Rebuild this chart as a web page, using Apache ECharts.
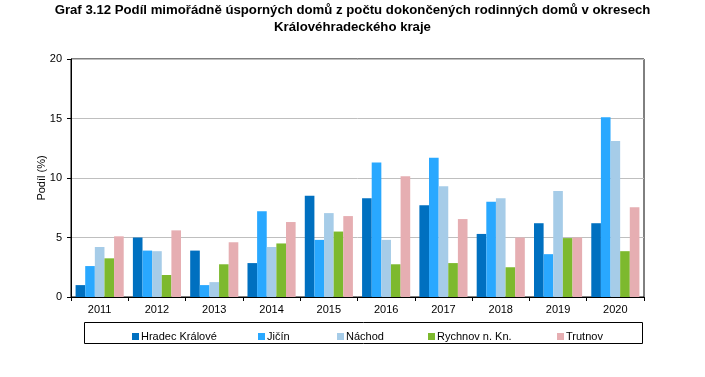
<!DOCTYPE html>
<html><head><meta charset="utf-8">
<script src="https://cdn.jsdelivr.net/npm/echarts@6/dist/echarts.min.js"></script>
<style>html,body{margin:0;padding:0;background:#fff}#c{width:705px;height:377px}</style>
</head><body><div id="c"></div>
<script>
const categories = ['2011','2012','2013','2014','2015','2016','2017','2018','2019','2020'];
const seriesNames = ['Hradec Králové','Jičín','Náchod','Rychnov n. Kn.','Trutnov'];
const hradecKralove = [1.0, 5.0, 3.9, 2.85, 8.5, 8.3, 7.7, 5.3, 6.2, 6.2];
const jicin = [2.6, 3.9, 1.0, 7.2, 4.8, 11.3, 11.7, 8.0, 3.6, 15.1];
const nachod = [4.2, 3.85, 1.25, 4.2, 7.05, 4.8, 9.3, 8.3, 8.9, 13.1];
const rychnov = [3.25, 1.85, 2.75, 4.5, 5.5, 2.75, 2.85, 2.5, 4.95, 3.85];
const trutnov = [5.1, 5.6, 4.6, 6.3, 6.8, 10.15, 6.55, 5.0, 5.0, 7.55];
const yTicks = [0, 5, 10, 15, 20];
const colors = ['#0070C0','#29A8FF','#A6CCE8','#7DB92E','#E6AEB2'];
const values = [hradecKralove, jicin, nachod, rychnov, trutnov];
const legendLefts = [127, 253, 332, 423, 552];
const font = 'Liberation Sans, Arial, sans-serif';

const chart = echarts.init(document.getElementById('c'), null, {renderer:'canvas'});
chart.setOption({
  animation: false,
  color: colors,
  title: {
    text: 'Graf 3.12 Podíl mimořádně úsporných domů z počtu dokončených rodinných domů v okresech\nKrálovéhradeckého kraje',
    left: 'center', top: 2, padding: 0,
    textStyle: {fontFamily: font, fontWeight: 'bold', fontSize: 13.2, lineHeight: 17, color: '#000'}
  },
  grid: {left: 71, right: 61, top: 59, bottom: 80, show: true, borderColor: '#000', borderWidth: 1},
  xAxis: {
    type: 'category', data: categories,
    axisLine: {lineStyle: {color: '#000'}},
    axisTick: {show: true, length: 4, lineStyle: {color: '#000'}},
    axisLabel: {fontFamily: font, fontSize: 11, color: '#000', margin: 7}
  },
  yAxis: {
    type: 'value', min: yTicks[0], max: yTicks[yTicks.length-1], interval: 5,
    name: 'Podíl (%)', nameLocation: 'middle', nameGap: 24, nameMoveOverlap: false,
    nameTextStyle: {fontFamily: font, fontSize: 11, color: '#000'},
    axisLine: {show: true, lineStyle: {color: '#000'}},
    axisTick: {show: true, length: 4, lineStyle: {color: '#000'}},
    axisLabel: {fontFamily: font, fontSize: 11, color: '#000', margin: 9},
    splitLine: {lineStyle: {color: '#BFBFBF'}}
  },
  legend: seriesNames.map((n, i) => ({
    data: [n], left: legendLefts[i], top: 326, itemWidth: 7, itemHeight: 7, itemGap: 0,
    icon: 'rect', textStyle: {fontFamily: font, fontSize: 11, color: '#000', padding: [0,0,0,-3]}
  })),
  graphic: [{
    type: 'rect', shape: {x: 84.5, y: 322.5, width: 558, height: 21},
    style: {fill: 'none', stroke: '#000', lineWidth: 1}, silent: true
  }],
  series: seriesNames.map((n, i) => ({
    name: n, type: 'bar', data: values[i], barGap: '0%', barCategoryGap: '16%'
  }))
});
</script></body></html>
